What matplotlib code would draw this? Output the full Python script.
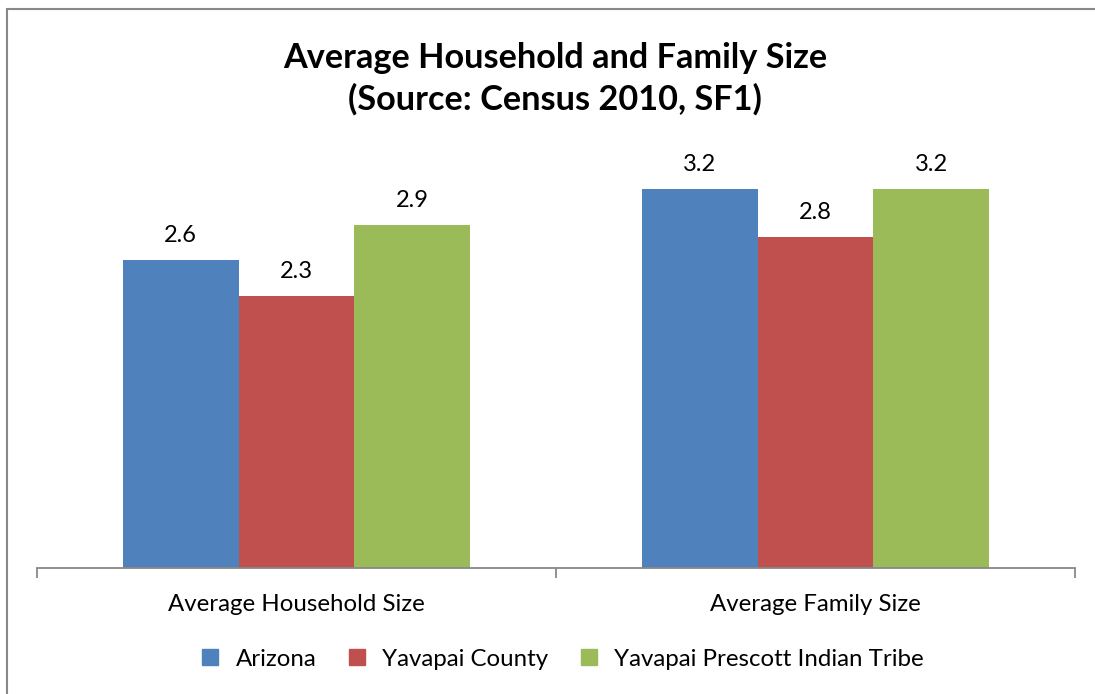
#!/usr/bin/env python

import matplotlib.pyplot as plt
from matplotlib.patches import Rectangle
import numpy as np

categories = ['Average Household Size', 'Average Family Size']
series_names = ['Arizona', 'Yavapai County', 'Yavapai Prescott Indian Tribe']
arizona = [2.6, 3.2]
yavapai_county = [2.3, 2.8]
tribe = [2.9, 3.2]
colors = ['#4F81BD', '#C0504D', '#9BBB59']


def main():
    plt.rcParams['font.family'] = ['Lato', 'DejaVu Sans']
    fig = plt.figure(figsize=(10.95, 6.94), dpi=100)
    ax = fig.add_axes([0.0338, 0.1816, 0.9479, 0.597])

    x = np.arange(len(categories))
    width = 0.223
    series = [arizona, yavapai_county, tribe]
    for i, (vals, name, col) in enumerate(zip(series, series_names, colors)):
        bars = ax.bar(x + (i - 1) * width, vals, width, color=col, label=name)
        for b, v in zip(bars, vals):
            ax.annotate(f'{v:.1f}', (b.get_x() + b.get_width() / 2, v),
                        xytext=(0, 10), textcoords='offset points',
                        ha='center', va='bottom', fontsize=17)

    ax.set_xlim(-0.5, 1.5)
    ax.set_ylim(0, 3.5)
    ax.set_yticks([])
    ax.set_xticks([-0.5, 0.5, 1.5])
    ax.set_xticklabels([])
    ax.set_xticks(x, minor=True)
    ax.set_xticklabels(categories, minor=True, fontsize=17.3)
    ax.tick_params(axis='x', which='minor', length=0, pad=19)
    ax.tick_params(axis='x', which='major', length=7, color='#888888', width=1.3)
    for s in ['top', 'right', 'left']:
        ax.spines[s].set_visible(False)
    ax.spines['bottom'].set_color('#888888')
    ax.spines['bottom'].set_linewidth(1.3)

    fig.text(0.507, 0.886, 'Average Household and Family Size\n(Source: Census 2010, SF1)',
             ha='center', va='center', fontsize=24.7, fontweight='bold', linespacing=1.35)

    handles = [plt.Line2D([], [], marker='s', linestyle='', color=c, markersize=12)
               for c in colors]
    fig.legend(handles, series_names, loc='center', bbox_to_anchor=(0.507, 0.05),
               ncol=3, frameon=False, fontsize=17.3, handletextpad=0.05,
               columnspacing=0.7)

    fig.patches.append(Rectangle((7 / 1095, -0.1), 1.2, 1 - 9 / 694 + 0.1,
                                 transform=fig.transFigure, fill=False,
                                 edgecolor='#888888', linewidth=1.5))

    fig.savefig('out.png', dpi=100)


if __name__ == '__main__':
    main()
